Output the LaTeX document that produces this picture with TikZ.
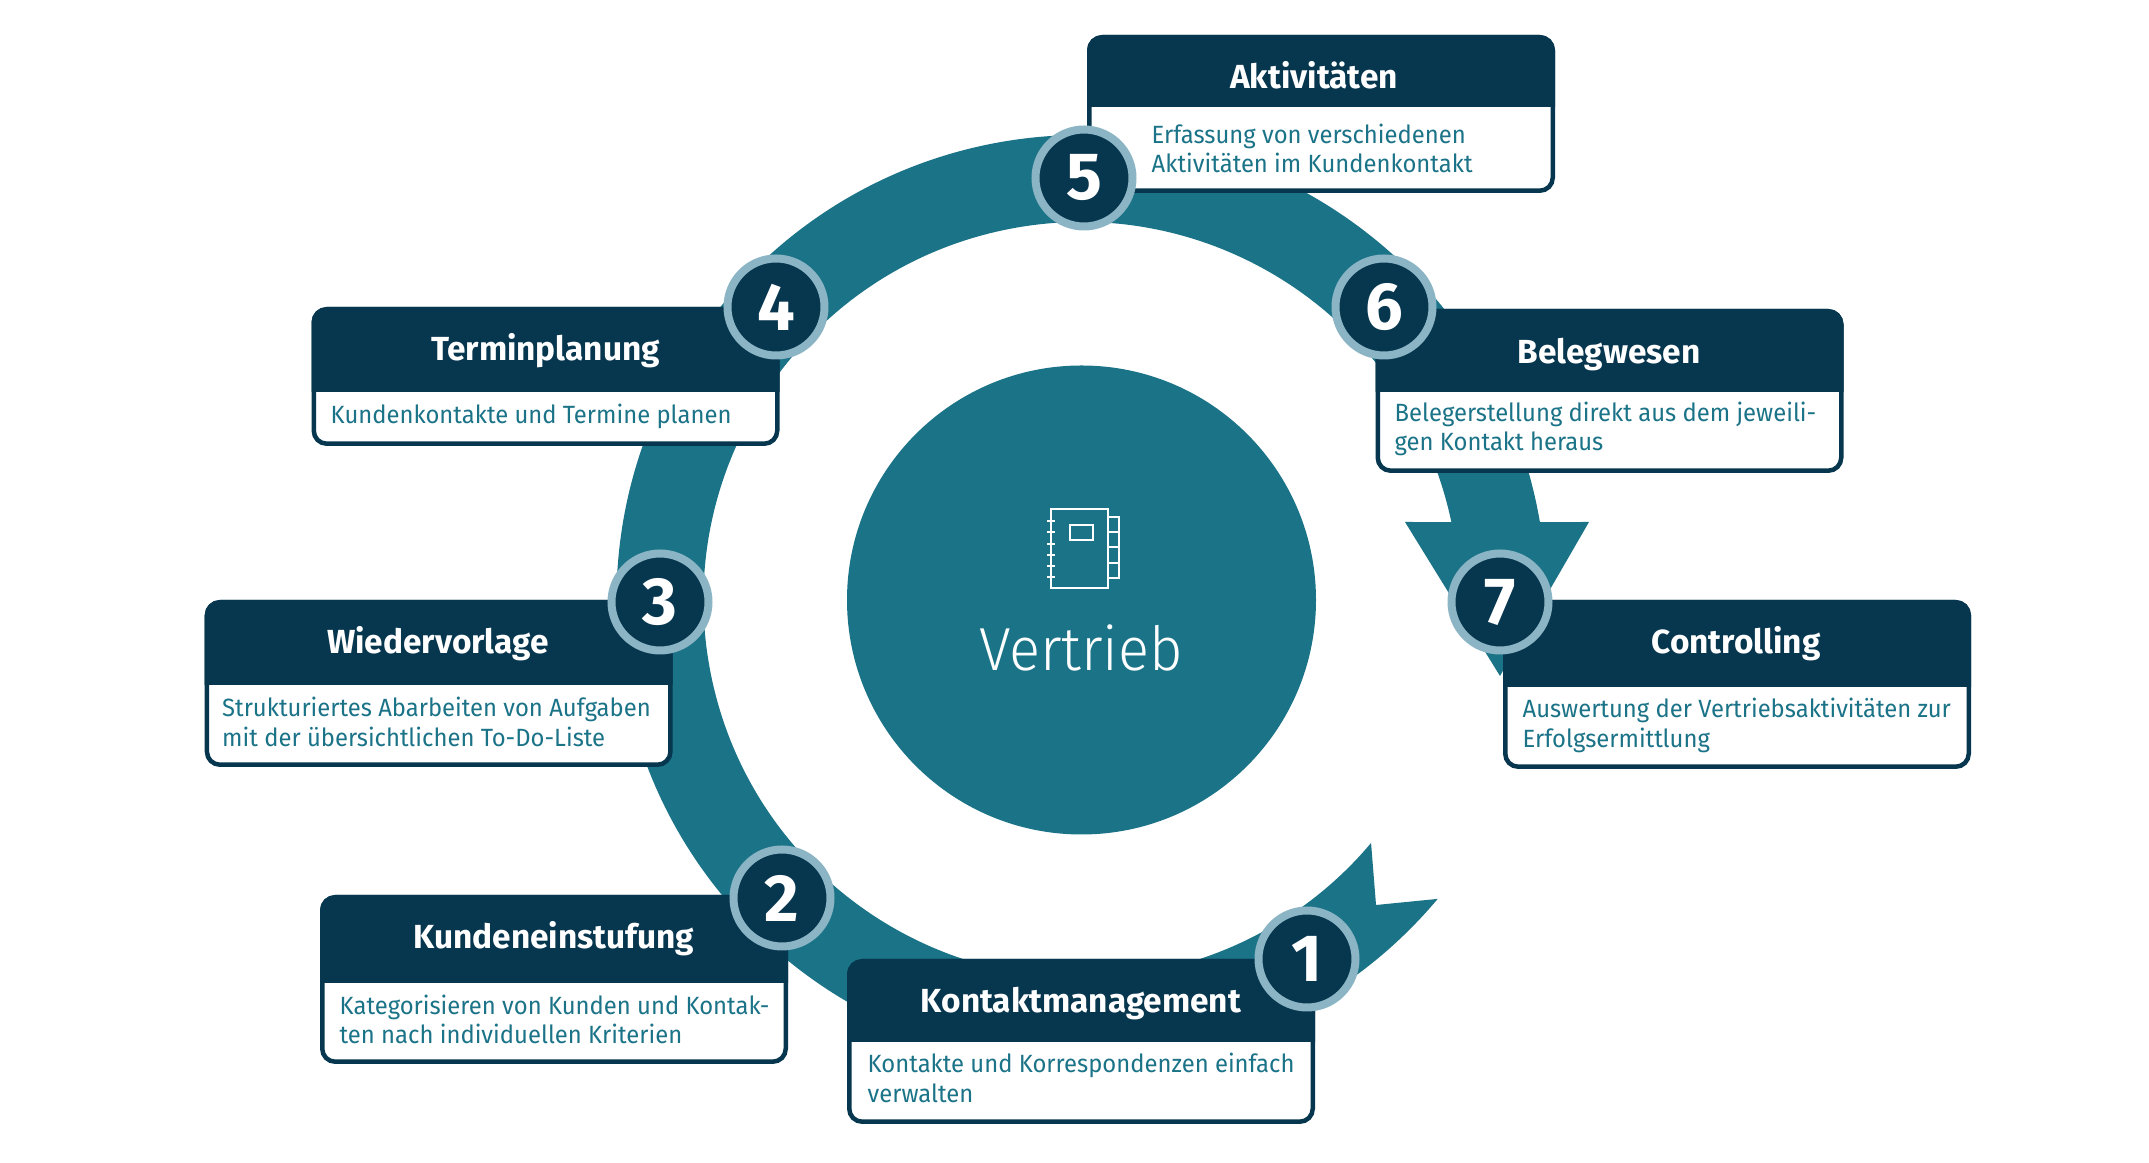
\documentclass[tikz,border=0pt]{standalone}
\usepackage{fontspec}
\setmainfont{Fira Sans}
\newfontfamily\bodyfont[FakeStretch=0.955]{Fira Sans}
\newfontfamily\hubfont[FakeStretch=0.95]{Fira Sans Light}
\usetikzlibrary{positioning}
\definecolor{ink}{HTML}{07364F}
\definecolor{petrol}{HTML}{1B7388}
\definecolor{pale}{HTML}{8BB5C4}

\begin{document}
\begin{tikzpicture}[
  cardbox/.style={draw=ink, fill=white, line width=0.045cm, rounded corners=0.13cm,
                  minimum width=4.635cm, inner sep=0pt, outer sep=0pt},
  cardhead/.style={fill=ink, draw=ink, line width=0.045cm},
  cardtitle/.style={anchor=base, text=white, font=\fontsize{9.5}{11}\selectfont\bfseries, inner sep=0pt},
  cardtext/.style={anchor=west, align=left, text=petrol, inner sep=0pt,
                   font=\fontsize{7.1}{8.4}\selectfont\bodyfont},
  badge/.style={circle, draw=pale, fill=ink, line width=0.08cm, minimum size=0.97cm, inner sep=0pt,
                text=white, font=\fontsize{19}{19}\selectfont\bfseries},
  hub/.style={circle, fill=petrol, minimum size=4.69cm, inner sep=0pt},
  iconline/.style={draw=white, line width=0.4pt},
]
\useasboundingbox (0,0) rectangle (21.49,11.63);

% ---- centre ---------------------------------------------------------------
\node[hub] (hub) at (10.815,5.63) {};
\node[anchor=base, text=white, inner sep=0pt, font=\fontsize{17.3}{20}\selectfont\hubfont] (hubtext) at (10.81,4.92) {Vertrieb};

% notebook icon
\draw[iconline] (10.51,6.54) rectangle (11.08,5.75);
\draw[iconline] (10.70,6.38) rectangle (10.93,6.23);
\draw[iconline] (11.08,6.46) -- (11.19,6.46) -- (11.19,5.85) -- (11.08,5.85);
\foreach \y in {6.31,6.16,6.00} \draw[iconline] (11.08,\y) -- (11.19,\y);
\foreach \y in {6.42,6.31,6.19,6.08,5.97,5.86} \draw[iconline] (10.47,\y) -- (10.55,\y);

% ---- ring with swallow tail and arrow head --------------------------------
\fill[petrol] ([shift={(-40:4.65)}]hub.center) arc[start angle=-40, end angle=-350.35, radius=4.65]
  -- (15.89,6.41) -- (15.00,4.87) -- (14.05,6.41)
  -- ([shift={(-348.1:3.78)}]hub.center) arc[start angle=-348.1, end angle=-40, radius=3.78]
  -- ([shift={(-46:4.24)}]hub.center) -- cycle;

% ---- cards ----------------------------------------------------------------
\node[cardbox, minimum height=1.605cm] (kontakt) at (10.81,1.215) {};
\node[cardbox, minimum height=1.645cm] (einstufung) at (5.54,1.835) {};
\node[cardbox, minimum height=1.625cm] (vorlage) at (4.387,4.795) {};
\node[cardbox, minimum height=1.345cm] (termin) at (5.455,7.865) {};
\node[cardbox, minimum height=1.535cm] (aktiv) at (13.21,10.49) {};
\node[cardbox, minimum height=1.595cm] (beleg) at (16.095,7.72) {};
\node[cardbox, minimum height=1.645cm] (control) at (17.37,4.785) {};

\foreach \n/\h in {kontakt/0.785, einstufung/0.835, vorlage/0.805, termin/0.805,
                   aktiv/0.675, beleg/0.785, control/0.825}
  \path[cardhead] ([yshift=-\h cm]\n.north west) [rounded corners=0.13cm] -- (\n.north west)
    -- (\n.north east) [sharp corners] -- ([yshift=-\h cm]\n.north east) -- cycle;

\node[cardtitle] (kontakttitle) at (10.81,1.505) {Kontaktmanagement};
\node[cardtext] (kontakttext) at (8.67,0.85) {Kontakte und Korrespondenzen einfach\\ verwalten};
\node[cardtitle] (einstufungtitle) at (5.54,2.145) {Kundeneinstufung};
\node[cardtext] (einstufungtext) at (3.39,1.435) {Kategorisieren von Kunden und Kontak-\\ ten nach individuellen Kriterien};
\node[cardtitle] (vorlagetitle) at (4.38,5.095) {Wiedervorlage};
\node[cardtext] (vorlagetext) at (2.215,4.41) {Strukturiertes Abarbeiten von Aufgaben\\ mit der übersichtlichen To-Do-Liste};
\node[cardtitle] (termintitle) at (5.455,8.025) {Terminplanung};
\node[cardtext] (termintext) at (3.30,7.465) {Kundenkontakte und Termine planen};
\node[cardtitle] (aktivtitle) at (13.14,10.745) {Aktivitäten};
\node[cardtext] (aktivtext) at (11.51,10.145) {Erfassung von verschiedenen\\ Aktivitäten im Kundenkontakt};
\node[cardtitle] (belegtitle) at (16.09,7.995) {Belegwesen};
\node[cardtext] (belegtext) at (13.94,7.34) {Belegerstellung direkt aus dem jeweili-\\ gen Kontakt heraus};
\node[cardtitle] (controltitle) at (17.36,5.095) {Controlling};
\node[cardtext] (controltext) at (15.22,4.375) {Auswertung der Vertriebsaktivitäten zur\\ Erfolgsermittlung};

% ---- numbered badges ------------------------------------------------------
\node[badge] (b1) at (13.07,2.04) {1};
\node[badge] (b2) at (7.82,2.65) {2};
\node[badge] (b3) at (6.60,5.61) {3};
\node[badge] (b4) at (7.76,8.56) {4};
\node[badge] (b5) at (10.84,9.85) {5};
\node[badge] (b6) at (13.84,8.56) {6};
\node[badge] (b7) at (15.00,5.61) {7};

\end{tikzpicture}
\end{document}
